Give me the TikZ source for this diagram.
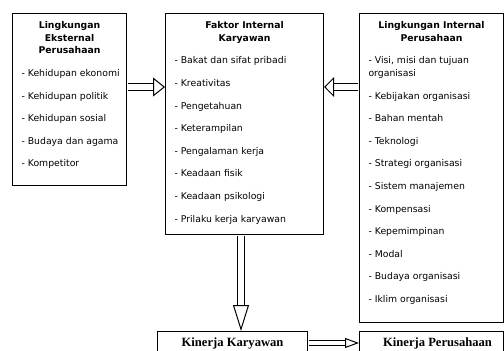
\documentclass[tikz,border=0pt]{standalone}
\usepackage{fontspec}
\setmainfont{DejaVu Sans}
\newfontfamily\kinerjafont{Liberation Serif}
\usepackage{tikz}
\usetikzlibrary{arrows.meta}

\newcommand{\judul}[1]{{\centering\bfseries\rule{0pt}{15.3pt}#1\par}}
\newcommand{\butir}[1]{\par\vspace{10.1pt}{\raggedright\leftskip=9pt - #1\par}}
\newcommand{\isikotak}[3]{\parbox[t][#2][t]{#1}{\fontsize{9.3}{12.5}\selectfont #3}}

\tikzset{
    kotak/.style={draw, line width=1.1pt, inner sep=0pt, anchor=north west},
    batang/.style={double, double distance=#1, line width=1pt, shorten <=.6pt},
    ujung/.style 2 args={white, line width=1pt, shorten <=.6pt,
        -{Triangle[open, color=black, length=#1, width=#2, line width=1pt]}}
}

\begin{document}
\begin{tikzpicture}[x=1pt, y=-1pt]
                \useasboundingbox (0,0) rectangle (504,351);
                \clip (0,0) rectangle (504,351);

                \node[kotak] (eksternal) at (12,13) {\isikotak{114pt}{172pt}{%
                    \judul{Lingkungan\\Eksternal\\Perusahaan}
                    \butir{Kehidupan ekonomi}
                    \butir{Kehidupan politik}
                    \butir{Kehidupan sosial}
                    \butir{Budaya dan agama}
                    \butir{Kompetitor}}};

                \node[kotak] (faktor) at (165,13) {\isikotak{158pt}{221pt}{%
                    \judul{Faktor Internal\\Karyawan}
                    \butir{Bakat dan sifat pribadi}
                    \butir{Kreativitas}
                    \butir{Pengetahuan}
                    \butir{Keterampilan}
                    \butir{Pengalaman kerja}
                    \butir{Keadaan fisik}
                    \butir{Keadaan psikologi}
                    \butir{Prilaku kerja karyawan}}};

                \node[kotak] (internal) at (359,13) {\isikotak{144pt}{309pt}{%
                    \judul{Lingkungan Internal\\Perusahaan}
                    \butir{Visi, misi dan tujuan\\organisasi}
                    \butir{Kebijakan organisasi}
                    \butir{Bahan mentah}
                    \butir{Teknologi}
                    \butir{Strategi organisasi}
                    \butir{Sistem manajemen}
                    \butir{Kompensasi}
                    \butir{Kepemimpinan}
                    \butir{Modal}
                    \butir{Budaya organisasi}
                    \butir{Iklim organisasi}}};

                \node[kotak] (kkaryawan) at (157,331) {\parbox[t][30pt][t]{150pt}{%
                    \centering\kinerjafont\bfseries\fontsize{12.6}{14}\selectfont
                    \rule{0pt}{15pt}Kinerja Karyawan}};

                \node[kotak] (kperusahaan) at (359,331) {\parbox[t][30pt][t]{144pt}{%
                    \centering\kinerjafont\bfseries\fontsize{12.6}{14}\selectfont
                    \rule{0pt}{15pt}\hspace*{12pt}Kinerja Perusahaan}};

                \coordinate (atas) at (0,87);
                \coordinate (tengah) at (241,0);
                \coordinate (bawah) at (0,343);

                \draw[batang=6pt, shorten >=12pt] (eksternal.east |- atas) -- (faktor.west |- atas);
                \draw[ujung={12pt}{19pt}] (eksternal.east |- atas) -- (faktor.west |- atas);

                \draw[batang=6pt, shorten >=10pt] (internal.west |- atas) -- (faktor.east |- atas);
                \draw[ujung={10pt}{20pt}] (internal.west |- atas) -- (faktor.east |- atas);

                \draw[batang=6pt, shorten >=26pt] (faktor.south -| tengah) -- (kkaryawan.north -| tengah);
                \draw[ujung={26pt}{16pt}] (faktor.south -| tengah) -- (kkaryawan.north -| tengah);

                \draw[batang=4pt, shorten >=14pt] (kkaryawan.east |- bawah) -- (kperusahaan.west |- bawah);
                \draw[ujung={14pt}{10pt}] (kkaryawan.east |- bawah) -- (kperusahaan.west |- bawah);
            \end{tikzpicture}
\end{document}
